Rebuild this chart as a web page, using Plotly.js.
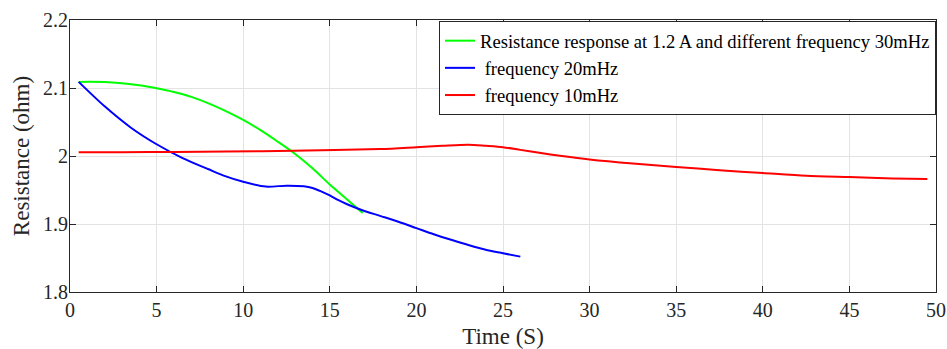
<!DOCTYPE html>
<html>
<head>
<meta charset="utf-8">
<script src="https://cdn.plot.ly/plotly-3.0.1.min.js"></script>
<style>html,body{margin:0;padding:0;background:#fff;}#chart{width:947px;height:349px;}</style>
</head>
<body>
<div id="chart"></div>
<script>
const greenName = 'Resistance response at 1.2 A and different frequency 30mHz';
const blueName = '\u00a0frequency 20mHz';
const redName = '\u00a0frequency 10mHz';

const greenX = [0.5, 2, 3, 4, 5, 6, 7, 8, 9, 10, 11, 12, 13, 14, 15, 16, 16.9];
const greenY = [2.109, 2.1088, 2.107, 2.104, 2.0995, 2.094, 2.087, 2.0775, 2.066, 2.053, 2.038, 2.021, 2.003, 1.982, 1.958, 1.936, 1.916];

const blueX = [0.5, 2, 3.5, 5, 6.5, 8, 9, 10, 11.3, 12.5, 13.5, 14, 14.5, 15, 15.5, 16, 16.8, 17.9, 19, 20, 21, 22.1, 23, 24, 25, 26];
const blueY = [2.109, 2.073, 2.042, 2.0173, 1.997, 1.9805, 1.970, 1.962, 1.955, 1.9564, 1.9555, 1.953, 1.948, 1.942, 1.935, 1.929, 1.921, 1.912, 1.903, 1.894, 1.885, 1.876, 1.869, 1.862, 1.857, 1.852];

const redX = [0.5, 3, 6, 9, 12.9, 17.9, 20, 21.5, 23, 24, 25, 26, 27, 28.4, 30, 32.5, 35, 37.5, 40, 42.5, 45, 47.5, 49.5];
const redY = [2.0054, 2.0055, 2.006, 2.0068, 2.0076, 2.0103, 2.013, 2.015, 2.0166, 2.015, 2.013, 2.009, 2.005, 2.000, 1.995, 1.989, 1.984, 1.979, 1.975, 1.971, 1.969, 1.967, 1.966];

const xTickVals = [0, 5, 10, 15, 20, 25, 30, 35, 40, 45, 50];
const xTickText = ['0', '5', '10', '15', '20', '25', '30', '35', '40', '45', '50'];
const yTickVals = [1.8, 1.9, 2.0, 2.1, 2.2];
const yTickText = ['1.8', '1.9', '2', '2.1', '2.2'];

const axisColor = '#262626';
const gridColor = '#e3e3e3';
const fontFam = 'Liberation Serif';

const traces = [
  {x: greenX, y: greenY, name: greenName, mode: 'lines', line: {color: '#00ff00', width: 2, shape: 'spline', smoothing: 0.8}},
  {x: blueX, y: blueY, name: blueName, mode: 'lines', line: {color: '#0000ff', width: 2, shape: 'spline', smoothing: 0.8}},
  {x: redX, y: redY, name: redName, mode: 'lines', line: {color: '#ff0000', width: 2, shape: 'spline', smoothing: 0.8}}
];

const layout = {
  width: 947, height: 349,
  margin: {l: 70, r: 11, t: 20, b: 57},
  paper_bgcolor: '#ffffff', plot_bgcolor: '#ffffff',
  font: {family: fontFam, color: axisColor, size: 20},
  showlegend: true,
  legend: {
    x: 1, xanchor: 'right', y: 0.996, yanchor: 'top',
    bgcolor: '#ffffff', bordercolor: axisColor, borderwidth: 1,
    font: {family: fontFam, size: 18.6, color: '#000000'},
    tracegroupgap: 0, itemwidth: 30
  },
  xaxis: {
    range: [0, 50], tickvals: xTickVals, ticktext: xTickText,
    ticks: 'inside', ticklen: 6, tickcolor: axisColor, tickwidth: 1,
    showline: true, linecolor: axisColor, linewidth: 1, mirror: 'ticks',
    showgrid: true, gridcolor: gridColor, gridwidth: 1, zeroline: false,
    tickfont: {family: fontFam, size: 20, color: axisColor},
    title: {text: 'Time (S)', font: {family: fontFam, size: 23, color: axisColor}, standoff: 8}
  },
  yaxis: {
    range: [1.8, 2.2], tickvals: yTickVals, ticktext: yTickText,
    ticks: 'inside', ticklen: 6, tickcolor: axisColor, tickwidth: 1,
    showline: true, linecolor: axisColor, linewidth: 1, mirror: 'ticks',
    showgrid: true, gridcolor: gridColor, gridwidth: 1, zeroline: false,
    tickfont: {family: fontFam, size: 20, color: axisColor},
    ticklabelstandoff: -3,
    title: {text: 'Resistance (ohm)', font: {family: fontFam, size: 23, color: axisColor}, standoff: 6}
  }
};

Plotly.newPlot('chart', traces, layout, {displayModeBar: false, staticPlot: true});
</script>
</body>
</html>
